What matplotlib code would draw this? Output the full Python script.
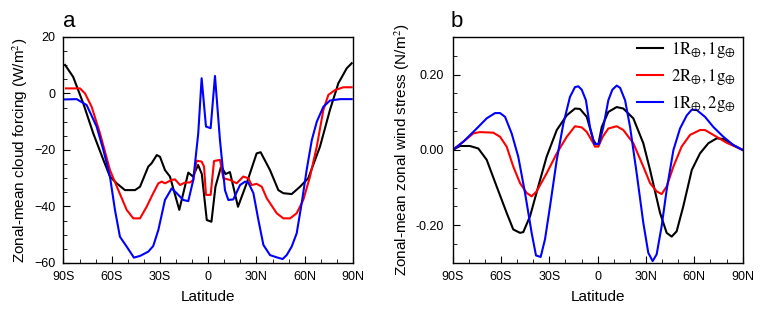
import numpy as np
import matplotlib
matplotlib.use("Agg")
from matplotlib import pyplot
from matplotlib.ticker import MultipleLocator

pyplot.rcParams['font.family'] = ['Liberation Sans', 'DejaVu Sans']
pyplot.rcParams['mathtext.fontset'] = 'stix'

# panel a: zonal-mean cloud forcing (W/m2)
lat_a_black = [-89, -84, -77.7, -71.5, -65.2, -61.1, -56.9, -51.8, -45.5, -42.4, -37.3, -35.2,
               -32, -30, -26.9, -23.8, -18, -12.4, -9.5, -6.3, -4.0, -0.9, 2.0, 4.5, 8, 10.8,
               13.5, 18.5, 23.9, 30.1, 32.6, 38.4, 43.6, 46.7, 51.9, 57.1, 62.2, 69.5, 75.7,
               80.9, 86.1, 89.2]
cf_black = [10.1, 5.9, -3.5, -14.1, -23.5, -29.4, -31.8, -34.2, -34.2, -33, -25.9, -24.7,
            -21.8, -22.4, -27.1, -29.4, -41.2, -28.0, -29.4, -25.3, -28.5, -44.8, -45.4, -33,
            -25.8, -28.5, -27.8, -40.1, -31.8, -21.2, -20.8, -27.1, -34.2, -35.3, -35.6, -33,
            -30, -18.8, -5.8, 3.6, 8.9, 10.7]

lat_a_red = [-88.4, -79.7, -76.6, -72.5, -67.3, -61.1, -55.9, -50.7, -46.6, -42.4, -38.3,
             -34.2, -31.0, -28.9, -26.9, -22.7, -20.7, -17.5, -14.4, -11.3, -9.3, -7.2, -4.1,
             -2.6, -1.4, 1.5, 3.6, 7.3, 9.4, 13.5, 17.7, 21.8, 24.9, 27, 30.1, 33.3, 36.4,
             42.6, 46.7, 50.9, 55.0, 59.1, 63.3, 67.5, 71.6, 74.7, 78.8, 84.0, 89.2]
cf_red = [1.8, 1.8, 0, -4.7, -14.1, -27.1, -34.2, -41.2, -44.2, -44.2, -40.1, -35.3, -31.8,
          -31.2, -31.8, -30.6, -30.4, -32.4, -31.5, -31.5, -30.6, -23.8, -24.1, -25.9, -35.9,
          -35.9, -23.9, -23.5, -30, -30.6, -31.8, -29.4, -30, -32.4, -32, -33, -37.1, -42.4,
          -44.2, -44.2, -42.4, -37.7, -29.4, -18.8, -5.8, -0.5, 1.2, 2.2, 2.2]

lat_a_blue = [-89, -81.8, -75.6, -69.4, -65.2, -61.1, -58.0, -54.9, -50.7, -46.2, -42.4,
              -37.3, -34.2, -31.0, -26.9, -22.7, -19.6, -15.5, -12.4, -9.3, -6.2, -4.1, -1.4,
              1.5, 4.2, 7.3, 10.4, 12.5, 15.6, 19.8, 22.9, 24.9, 28.1, 31.2, 34.3, 38.4, 42.6,
              46.3, 48.8, 51.9, 55.0, 58.1, 61.2, 64.4, 67.5, 71.6, 75.7, 82, 89.2]
cf_blue = [-2.1, -2, -4.1, -11.7, -20, -29.4, -41.2, -50.7, -54.2, -58.1, -57.5, -56, -54,
           -48.3, -37.7, -33.6, -35.3, -37.7, -38.1, -30.6, -14.1, 5.4, -11.7, -12.3, 6.2,
           -16.5, -34.2, -37.7, -37.5, -32.4, -31.2, -31.5, -35.3, -44.8, -53.6, -57.2, -58,
           -58.6, -57.2, -54.2, -49.5, -38.9, -27.1, -16.5, -10, -4.7, -2.5, -2, -2]

# panel b: zonal-mean zonal wind stress (N/m2)
lat_b_black = [-90, -85.5, -79.3, -74.1, -68.9, -62.7, -56.5, -52.4, -48.2, -46.2, -42.0,
               -36.9, -31.7, -25.4, -19.2, -14.1, -11.0, -6.8, -2.7, -1.0, 0.4, 2.5, 6.6, 11.8,
               15.9, 22.1, 28.3, 32.5, 38.7, 42.8, 45.9, 49.0, 53.1, 58.4, 63.5, 68.7, 73.9,
               78.0, 84.2, 90]
ws_black = [0, 0.0106, 0.0106, 0.004, -0.026, -0.097, -0.167, -0.211, -0.22, -0.218, -0.176,
            -0.097, -0.018, 0.053, 0.092, 0.11, 0.109, 0.088, 0.026, 0.015, 0.015, 0.061, 0.101,
            0.114, 0.11, 0.084, 0.018, -0.053, -0.167, -0.22, -0.23, -0.216, -0.150, -0.053,
            -0.009, 0.018, 0.031, 0.029, 0.013, 0]

lat_b_red = [-90, -83.4, -77.2, -73.1, -64.8, -60.6, -56.5, -52.4, -48.2, -44.1, -41.0, -37.9,
             -31.7, -25.4, -19.2, -14.1, -9.9, -6.8, -2.7, -1.7, 0.4, 3.1, 6.6, 11.8, 15.9,
             22.1, 28.3, 32.5, 36.6, 39.7, 42.8, 47.0, 52.1, 57.3, 63.5, 66.6, 71.8, 80.1, 90]
ws_red = [0, 0.022, 0.044, 0.0475, 0.046, 0.035, 0.009, -0.044, -0.088, -0.114, -0.123, -0.11,
          -0.062, -0.009, 0.035, 0.063, 0.06, 0.048, 0.018, 0.009, 0.009, 0.035, 0.057, 0.063,
          0.053, 0.018, -0.044, -0.088, -0.11, -0.117, -0.097, -0.044, 0.009, 0.04, 0.053,
          0.053, 0.04, 0.019, 0]

lat_b_blue = [-90, -83.4, -75.1, -68.9, -63.7, -60.6, -57.5, -53.4, -49.3, -45.1, -41.0, -38.3,
              -35.4, -32.7, -29.6, -25.4, -21.3, -17.2, -14.1, -12.0, -9.9, -7.3, -4.8, -2.1,
              0.8, 3.5, 6.6, 9.1, 11.8, 13.9, 17.0, 20.1, 24.2, 28.3, 31.4, 34.1, 36.6, 39.7,
              42.8, 47.0, 51.1, 55.3, 58.4, 61.5, 66.6, 71.8, 78.0, 84.2, 90]
ws_blue = [0, 0.022, 0.057, 0.084, 0.098, 0.098, 0.088, 0.044, -0.018, -0.114, -0.22, -0.28,
           -0.284, -0.237, -0.150, -0.026, 0.07, 0.141, 0.167, 0.169, 0.16, 0.132, 0.061, 0.016,
           0.016, 0.061, 0.132, 0.16, 0.171, 0.165, 0.132, 0.061, -0.062, -0.193, -0.273,
           -0.295, -0.277, -0.202, -0.106, 0, 0.057, 0.092, 0.107, 0.106, 0.088, 0.061, 0.035,
           0.013, 0]

lat_ticks = [-90, -60, -30, 0, 30, 60, 90]
lat_labels = ["90S", "60S", "30S", "0", "30N", "60N", "90N"]
legend_labels = [r"$\mathrm{1R_{\oplus},1g_{\oplus}}$",
                 r"$\mathrm{2R_{\oplus},1g_{\oplus}}$",
                 r"$\mathrm{1R_{\oplus},2g_{\oplus}}$"]
colors = ["black", "red", "blue"]


def style_axis(ax):
    ax.set_xlim(-90, 90)
    ax.set_xticks(lat_ticks)
    ax.set_xticklabels(lat_labels)
    ax.xaxis.set_minor_locator(MultipleLocator(10))
    ax.tick_params(axis="both", which="both", direction="in", top=False, right=False,
                   labelsize=9, pad=6)
    ax.tick_params(which="major", length=5)
    ax.tick_params(which="minor", length=3)
    ax.set_xlabel("Latitude", fontsize=11, labelpad=5)
    for s in ax.spines.values():
        s.set_linewidth(1.0)


fig = pyplot.figure(figsize=(7.63, 3.18), dpi=100)
ax_a = fig.add_axes([0.0832, 0.173, 0.3794, 0.7107])
ax_b = fig.add_axes([0.5933, 0.173, 0.3801, 0.7107])

lw = 1.5
ax_a.plot(lat_a_black, cf_black, color=colors[0], lw=lw)
ax_a.plot(lat_a_red, cf_red, color=colors[1], lw=lw)
ax_a.plot(lat_a_blue, cf_blue, color=colors[2], lw=lw)
style_axis(ax_a)
ax_a.set_ylim(-60, 20)
ax_a.set_yticks([-60, -40, -20, 0, 20])
ax_a.yaxis.set_minor_locator(MultipleLocator(5))
ax_a.set_ylabel("Zonal-mean cloud forcing (W/m$^{2}$)", fontsize=11, labelpad=3)

ax_b.plot(lat_b_black, ws_black, color=colors[0], lw=lw, label=legend_labels[0])
ax_b.plot(lat_b_red, ws_red, color=colors[1], lw=lw, label=legend_labels[1])
ax_b.plot(lat_b_blue, ws_blue, color=colors[2], lw=lw, label=legend_labels[2])
style_axis(ax_b)
ax_b.set_ylim(-0.3, 0.3)
ax_b.set_yticks([-0.2, 0.0, 0.2])
ax_b.set_yticklabels(["-0.20", "0.00", "0.20"])
ax_b.yaxis.set_minor_locator(MultipleLocator(0.05))
ax_b.set_ylabel("Zonal-mean zonal wind stress (N/m$^{2}$)", fontsize=11, labelpad=3)
ax_b.legend(loc="upper right", bbox_to_anchor=(1.005, 1.025), frameon=False, fontsize=12,
            handlelength=1.6, handletextpad=0.45, labelspacing=0.42, borderaxespad=0.1)

fig.text(0.083, 0.915, "a", fontsize=16, ha="left", va="baseline")
fig.text(0.591, 0.915, "b", fontsize=16, ha="left", va="baseline")

fig.savefig("out.png", dpi=100)
pyplot.close()
